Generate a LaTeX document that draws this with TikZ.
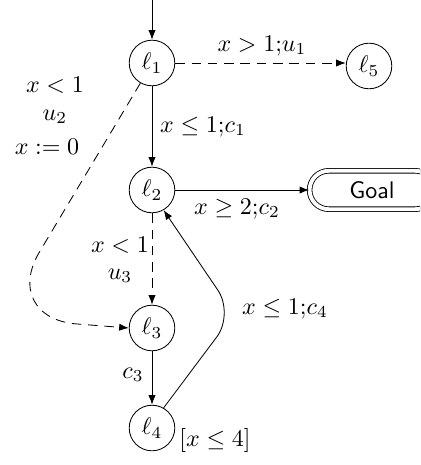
\documentclass[tikz,border=0pt]{standalone}
\usetikzlibrary{arrows.meta}
\begin{document}
\begin{tikzpicture}[x=0.4167pt,y=-0.4167pt,
  loc/.style={circle,draw,line width=0.35pt,minimum size=19pt,inner sep=0pt},
  goalbox/.style={draw,line width=0.35pt,double,double distance=1.6pt,rounded corners=8pt,minimum width=52pt,minimum height=16pt,inner sep=0pt,font=\sffamily},
  edge/.style={-{Latex[length=4pt,width=3pt]},line width=0.35pt},
  dashedge/.style={dash pattern=on 4pt off 2.8pt},
  lbl/.style={inner sep=0pt}]
\useasboundingbox (0,0) rectangle (420,465);
\clip (0,0) rectangle (420,465);
\node[loc] (l1) at (152,63) {$\ell_1$};
\node[loc] (l5) at (369,66) {$\ell_5$};
\node[loc] (l2) at (152,190) {$\ell_2$};
\node[loc] (l3) at (152,328) {$\ell_3$};
\node[loc] (l4) at (152,428) {$\ell_4$};
\node[goalbox] (goal) at (372,190) {Goal};
\coordinate (init) at (152,0);
\coordinate (bendA) at (0,318);
\coordinate (bendB) at (234,314);
\draw[edge] (init) -- (l1);
\draw[edge,dashedge] (l1) -- (l5.west|-l1);
\draw[edge] (l1) -- (l2);
\draw[edge] (l2) -- (goal);
\draw[edge,dashedge] (l2) -- (l3);
\draw[edge] (l3) -- (l4);
\draw[edge,dashedge,rounded corners=32pt] (l1.240) -- (bendA) -- (l3.west);
\draw[edge,rounded corners=12pt] (l4.60) -- (bendB) -- (l2.300);
\node[lbl] (t1) at (262,46) {$x>1{;}u_1$};
\node[lbl] (t2) at (203,127) {$x\le 1{;}c_1$};
\node[lbl] (t3) at (55,85) {$x<1$};
\node[lbl] (t4) at (55,117) {$u_2$};
\node[lbl] (t5) at (47,147) {$x:=0$};
\node[lbl] (t6) at (237,209) {$x\ge 2{;}c_2$};
\node[lbl] (t7) at (120,245) {$x<1$};
\node[lbl] (t8) at (120,276) {$u_3$};
\node[lbl] (t9) at (285,309) {$x\le 1{;}c_4$};
\node[lbl] (t10) at (133,375) {$c_3$};
\node[lbl] (t11) at (215,440) {$[x\le 4]$};
\end{tikzpicture}
\end{document}
